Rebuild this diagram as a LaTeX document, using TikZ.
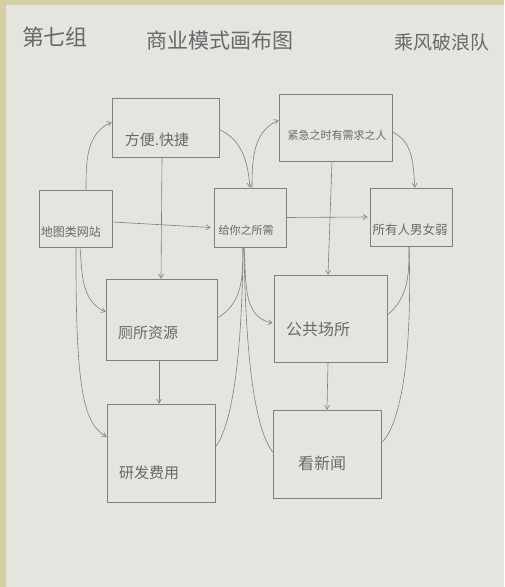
\documentclass[tikz,border=0pt]{standalone}
\usepackage{fontspec}
\setmainfont{Noto Sans CJK SC}
\usetikzlibrary{arrows.meta}
\definecolor{paper}{RGB}{227,229,222}
\definecolor{ink}{RGB}{128,128,128}
\definecolor{txtink}{RGB}{105,105,105}
\definecolor{edgeyel}{RGB}{214,208,160}
\tikzset{
  box/.style={draw=ink, line width=0.7pt, rectangle, inner sep=0pt},
  lbl/.style={text=txtink, inner sep=0pt},
  conn/.style={draw=ink, line width=0.6pt},
  arr/.style={conn, -{Straight Barb[length=4pt,width=5pt]}},
}
\begin{document}
\begin{tikzpicture}[x=1pt,y=-1pt]
\useasboundingbox (0,0) rectangle (504,587);
\fill[paper] (0,0) rectangle (504,587);
\fill[edgeyel] (0,0) rectangle (504,5);
\fill[edgeyel] (0,0) rectangle (6,587);

% titles
\node[lbl, font=\fontsize{22pt}{24pt}\selectfont] (t1) at (55,37) {第七组};
\node[lbl, font=\fontsize{21pt}{24pt}\selectfont] (t2) at (220,40) {商业模式画布图};
\node[lbl, font=\fontsize{19pt}{22pt}\selectfont] (t3) at (442,42) {乘风破浪队};

% boxes
\node[box, minimum width=107pt, minimum height=59pt] (fb) at (165.5,127.5) {};
\node[box, minimum width=73pt, minimum height=57pt] (dt) at (75.5,218.5) {};
\node[box, minimum width=72pt, minimum height=59pt] (gn) at (250,217.5) {};
\node[box, minimum width=113pt, minimum height=67pt] (jj) at (335.5,127.5) {};
\node[box, minimum width=82pt, minimum height=58pt] (sy) at (411,217) {};
\node[box, minimum width=111pt, minimum height=81pt] (cs) at (161.5,319.5) {};
\node[box, minimum width=113pt, minimum height=87pt] (gg) at (330.5,318.5) {};
\node[box, minimum width=108pt, minimum height=98pt] (yf) at (161,453) {};
\node[box, minimum width=108pt, minimum height=88pt] (kx) at (327,454) {};

% labels
\node[lbl, font=\fontsize{15pt}{17pt}\selectfont] (fbl) at (157,140) {方便.快捷};
\node[lbl, font=\fontsize{12pt}{14pt}\selectfont] (dtl) at (71,232) {地图类网站};
\node[lbl, font=\fontsize{11pt}{13pt}\selectfont] (gnl) at (246,230) {给你之所需};
\node[lbl, font=\fontsize{11pt}{13pt}\selectfont] (jjl) at (337,135) {紧急之时有需求之人};
\node[lbl, font=\fontsize{12.5pt}{14pt}\selectfont] (syl) at (410,230) {所有人男女弱};
\node[lbl, font=\fontsize{15pt}{17pt}\selectfont] (csl) at (148,333) {厕所资源};
\node[lbl, font=\fontsize{16pt}{18pt}\selectfont] (ggl) at (318,330) {公共场所};
\node[lbl, font=\fontsize{15pt}{17pt}\selectfont] (yfl) at (149,473) {研发费用};
\node[lbl, font=\fontsize{16pt}{18pt}\selectfont] (kxl) at (322,463) {看新闻};

% connectors
\draw[arr] ([xshift=10.5pt]dt.north) to[out=90,in=205] ([yshift=5.5pt]fb.west);
\draw[arr] ([yshift=-2pt]fb.east) to[out=-25,in=95] ([xshift=0pt]gn.north);
\draw[arr] ([yshift=-3.5pt]dt.east) -- ([xshift=-3pt,yshift=-10pt]gn.west);
\draw[arr] ([xshift=-3.5pt]fb.south) -- ([xshift=-0.5pt]cs.north);
\draw[arr] ([xshift=4.5pt]dt.south) to[out=-85,in=155] ([yshift=7.5pt]cs.west);
\draw[arr] ([xshift=0.5pt]dt.south) .. controls ([xshift=0pt,yshift=-150pt]dt.south) and ([xshift=-22pt,yshift=30pt]yf.west) .. ([yshift=16pt]yf.west);
\draw[arr] ([xshift=-2.5pt]cs.south) -- ([xshift=-2pt]yf.north);
\draw[conn] ([xshift=-7pt]gn.south) to[out=-90,in=30] ([yshift=1.5pt]cs.east);
\draw[conn] ([xshift=-7pt]gn.south) .. controls ([xshift=-8pt,yshift=-120pt]gn.south) and ([xshift=15pt,yshift=25pt]yf.east) .. ([yshift=6pt]yf.east);
\draw[arr] ([xshift=-6pt]gn.south) to[out=-85,in=170] ([xshift=-1pt,yshift=-4.5pt]gg.west);
\draw[conn] ([xshift=-6pt]gn.south) .. controls ([xshift=-4pt,yshift=-130pt]gn.south) and ([xshift=-15pt,yshift=22pt]kx.west) .. ([yshift=2pt]kx.west);
\draw[arr] ([xshift=2pt]gn.north) to[out=90,in=205] ([yshift=7.5pt]jj.west);
\draw[arr] (gn.east) -- ([xshift=-2pt]sy.west);
\draw[arr] ([yshift=-4.5pt]jj.east) to[out=-25,in=95] ([xshift=4pt]sy.north);
\draw[arr] ([xshift=-3.5pt]jj.south) -- ([xshift=-2.5pt]gg.north);
\draw[arr] ([xshift=-2.5pt]gg.south) -- ([xshift=0pt]kx.north);
\draw[conn] ([xshift=-2pt]sy.south) to[out=-90,in=40] ([yshift=3.5pt]gg.east);
\draw[conn] ([xshift=-2pt]sy.south) .. controls ([xshift=2pt,yshift=-130pt]sy.south) and ([xshift=15pt,yshift=25pt]kx.east) .. ([yshift=11pt]kx.east);
\end{tikzpicture}
\end{document}
